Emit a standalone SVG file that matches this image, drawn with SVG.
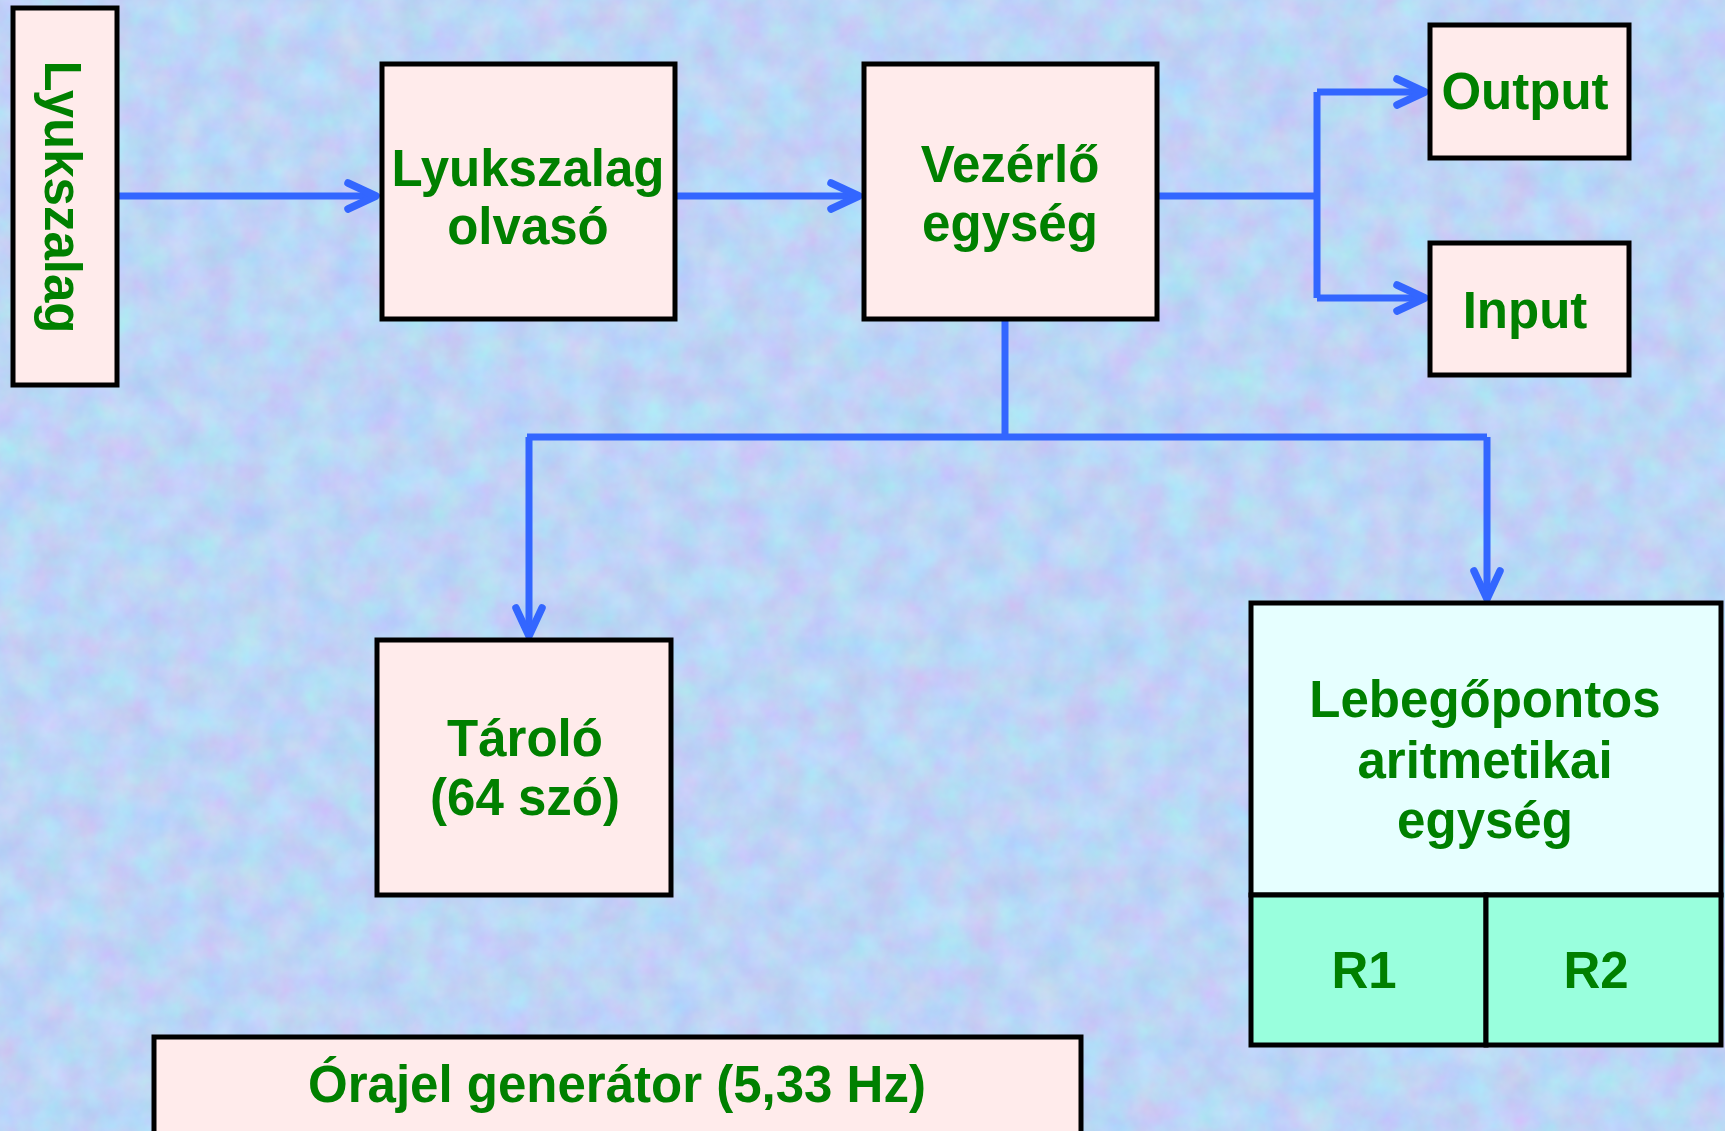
<svg xmlns="http://www.w3.org/2000/svg" width="1725" height="1131" viewBox="0 0 1725 1131">
  <defs>
    <!-- mottled blue/lavender paper background -->
    <filter id="paper" x="0" y="0" width="100%" height="100%" filterUnits="userSpaceOnUse"
            color-interpolation-filters="sRGB">
      <feTurbulence type="fractalNoise" baseFrequency="0.03" numOctaves="4" seed="7" result="noise"/>
      <feColorMatrix in="noise" type="matrix"
        values="0.18 0 0 0 0.65
                -0.08 0.15 0 0 0.80
                0 0 0.08 0 0.925
                0 0 0 0 1"/>
    </filter>
    <marker id="chevron" markerUnits="userSpaceOnUse" markerWidth="48" markerHeight="48"
            viewBox="-40 -24 48 48" refX="0" refY="0" orient="auto">
      <path d="M -28 -13 L 0 0 L -28 13" fill="none" stroke="#3366ff" stroke-width="7.5"
            stroke-linecap="round" stroke-linejoin="round"/>
    </marker>
    <style>
      .box { fill: #ffebeb; stroke: #000; stroke-width: 5; }
      .alu { fill: #e6ffff; stroke: #000; stroke-width: 5; }
      .reg { fill: #99ffdd; stroke: #000; stroke-width: 5; }
      .lbl { font-family: "Liberation Sans", Arial, sans-serif; font-weight: bold;
             font-size: 51px; fill: #008000; text-anchor: middle; }
      .wire { fill: none; stroke: #3366ff; stroke-width: 7; }
    </style>
  </defs>

  <rect x="0" y="0" width="1725" height="1131" fill="#c0d4f6"/>
  <rect x="0" y="0" width="1725" height="1131" filter="url(#paper)"/>

  <!-- connectors -->
  <g id="connectors">
    <path class="wire" d="M 117 196 H 376" marker-end="url(#chevron)"/>
    <path class="wire" d="M 675 196 H 859" marker-end="url(#chevron)"/>
    <path class="wire" d="M 1157 196 H 1317"/>
    <path class="wire" d="M 1317 92 V 298"/>
    <path class="wire" d="M 1317 92 H 1425" marker-end="url(#chevron)"/>
    <path class="wire" d="M 1317 298 H 1425" marker-end="url(#chevron)"/>
    <path class="wire" d="M 1005 319 V 437"/>
    <path class="wire" d="M 527 437 H 1487"/>
    <path class="wire" d="M 529 437 V 636" marker-end="url(#chevron)"/>
    <path class="wire" d="M 1487 437 V 599" marker-end="url(#chevron)"/>
  </g>

  <g id="tape">
    <rect class="box" x="13" y="8" width="104" height="377"/>
    <text class="lbl" transform="translate(45 197) rotate(90)">Lyukszalag</text>
  </g>

  <g id="tape-reader">
    <rect class="box" x="382" y="64" width="293" height="255"/>
    <text class="lbl" x="528" y="186">Lyukszalag</text>
    <text class="lbl" x="528" y="244">olvasó</text>
  </g>

  <g id="control-unit">
    <rect class="box" x="864" y="64" width="293" height="255"/>
    <text class="lbl" x="1010" y="182">Vezérlő</text>
    <text class="lbl" x="1010" y="241">egység</text>
  </g>

  <g id="output">
    <rect class="box" x="1430" y="25" width="199" height="133"/>
    <text class="lbl" x="1525" y="109">Output</text>
  </g>

  <g id="input">
    <rect class="box" x="1430" y="243" width="199" height="132"/>
    <text class="lbl" x="1525" y="328">Input</text>
  </g>

  <g id="memory">
    <rect class="box" x="377" y="640" width="294" height="255"/>
    <text class="lbl" x="525" y="756">Tároló</text>
    <text class="lbl" x="525" y="815">(64 szó)</text>
  </g>

  <g id="fpu">
    <rect class="alu" x="1251" y="603" width="470" height="292"/>
    <text class="lbl" x="1485" y="717">Lebegőpontos</text>
    <text class="lbl" x="1485" y="778">aritmetikai</text>
    <text class="lbl" x="1485" y="838">egység</text>
  </g>

  <g id="reg-r1">
    <rect class="reg" x="1251" y="895" width="235" height="150"/>
    <text class="lbl" x="1364" y="988">R1</text>
  </g>

  <g id="reg-r2">
    <rect class="reg" x="1486" y="895" width="235" height="150"/>
    <text class="lbl" x="1596" y="988">R2</text>
  </g>

  <g id="clock">
    <rect class="box" x="154" y="1037" width="927" height="110"/>
    <text class="lbl" x="617" y="1102">Órajel generátor (5,33 Hz)</text>
  </g>
</svg>
